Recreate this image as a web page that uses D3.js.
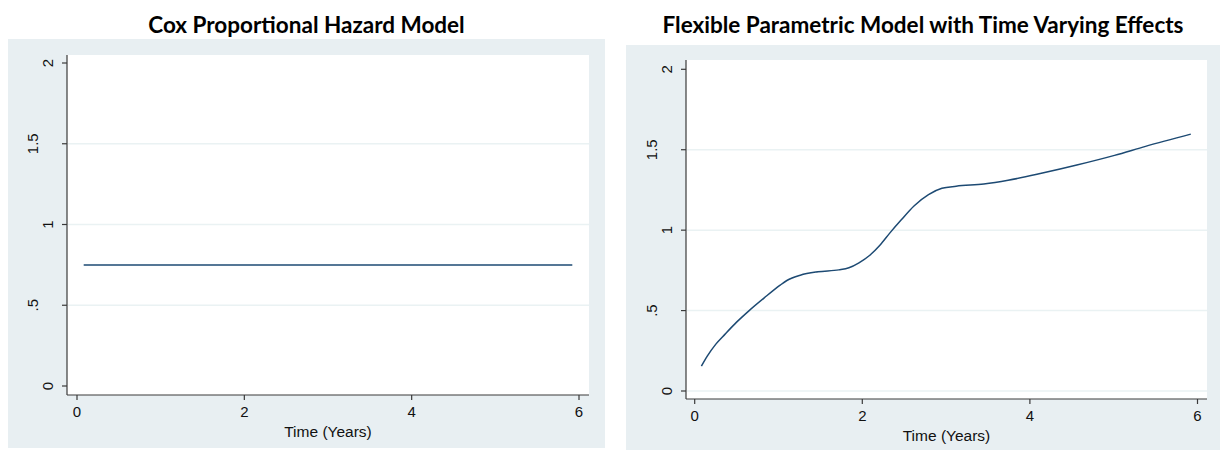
<!DOCTYPE html>
<html>
<head>
<meta charset="utf-8">
<script src="https://cdn.jsdelivr.net/npm/d3@7"></script>
<style>
  html, body { margin: 0; padding: 0; background: #ffffff; }
  svg { display: block; }
</style>
</head>
<body>
<svg id="chart" width="1224" height="450"></svg>
<script>
// Hazard ratio over follow-up time, two model specifications
const titles = ["Cox Proportional Hazard Model", "Flexible Parametric Model with Time Varying Effects"];
const xTitle = "Time (Years)";
const xTicks = [0, 2, 4, 6];
const yTicks = [0, 0.5, 1, 1.5, 2];
const yTickLabels = ["0", ".5", "1", "1.5", "2"];

// Cox model: constant hazard ratio
const coxTime = [0.08, 5.92];
const coxHR = [0.75, 0.75];

// Flexible parametric model: time-varying hazard ratio
const fpmTime = [0.08, 0.15, 0.25, 0.36, 0.50, 0.65, 0.83, 1.02, 1.10, 1.26, 1.47, 1.72, 1.84,
                 1.96, 2.09, 2.21, 2.33, 2.46, 2.62, 2.79, 2.95, 3.12, 3.45, 3.74, 4.15, 4.56,
                 5.01, 5.38, 5.92];
const fpmHR = [0.155, 0.217, 0.29, 0.352, 0.428, 0.50, 0.579, 0.658, 0.687, 0.72, 0.741, 0.753, 0.766,
               0.797, 0.844, 0.906, 0.983, 1.061, 1.152, 1.221, 1.26, 1.273, 1.287, 1.31, 1.355, 1.405,
               1.465, 1.521, 1.597];

const gridLeft = [0.5, 1, 1.5];
const gridRight = [0, 0.5, 1, 1.5];

const svg = d3.select("#chart");

const panels = [
  {
    title: titles[0], time: coxTime, hr: coxHR, grid: gridLeft,
    bg: {x0: 8, x1: 605, y0: 39, y1: 448},
    plot: {x0: 67, x1: 589, y0: 55, y1: 395},
    xr: [77, 579], yr: [386, 63], titleY: 33, xlabY: 412, xtitleY: 431
  },
  {
    title: titles[1], time: fpmTime, hr: fpmHR, grid: gridRight,
    bg: {x0: 626, x1: 1220, y0: 45, y1: 450},
    plot: {x0: 686, x1: 1207, y0: 60, y1: 399},
    xr: [694.7, 1197.5], yr: [391, 69.3], titleY: 33, xlabY: 416, xtitleY: 435
  }
];

const axisColor = "#3a3a3a";
const lineColor = "#1d4a73";

panels.forEach(p => {
  const g = svg.append("g");
  const x = d3.scaleLinear().domain([0, 6]).range(p.xr);
  const y = d3.scaleLinear().domain([0, 2]).range(p.yr);

  // outer graph region
  g.append("rect")
    .attr("x", p.bg.x0).attr("y", p.bg.y0)
    .attr("width", p.bg.x1 - p.bg.x0).attr("height", p.bg.y1 - p.bg.y0)
    .attr("fill", "#e8eff2");

  // plot region
  g.append("rect")
    .attr("x", p.plot.x0).attr("y", p.plot.y0)
    .attr("width", p.plot.x1 - p.plot.x0).attr("height", p.plot.y1 - p.plot.y0)
    .attr("fill", "#ffffff");

  // title
  g.append("text")
    .attr("x", (p.bg.x0 + p.bg.x1) / 2).attr("y", p.titleY)
    .attr("text-anchor", "middle")
    .attr("font-family", "Lato, 'Open Sans', sans-serif")
    .attr("font-weight", 700)
    .attr("font-size", 22.5)
    .attr("fill", "#000")
    .text(p.title);

  // horizontal gridlines
  g.selectAll(".grid").data(p.grid).enter().append("line")
    .attr("x1", p.plot.x0 + 1).attr("x2", p.plot.x1)
    .attr("y1", d => y(d)).attr("y2", d => y(d))
    .attr("stroke", "#eaf2f3").attr("stroke-width", 1.5);

  // y axis
  g.append("line")
    .attr("x1", p.plot.x0).attr("x2", p.plot.x0)
    .attr("y1", p.plot.y0).attr("y2", p.plot.y1)
    .attr("stroke", axisColor).attr("stroke-width", 1.2);
  g.selectAll(".ytick").data(yTicks).enter().append("line")
    .attr("x1", p.plot.x0 - 5).attr("x2", p.plot.x0)
    .attr("y1", d => y(d)).attr("y2", d => y(d))
    .attr("stroke", axisColor).attr("stroke-width", 1.2);
  g.selectAll(".ylab").data(yTicks).enter().append("text")
    .attr("transform", (d, i) => {
      const off = yTickLabels[i].includes(".") ? 34 : 19;
      return `translate(${p.plot.x0 - off},${y(d)}) rotate(-90)`;
    })
    .attr("text-anchor", "middle")
    .attr("dy", "0.36em")
    .attr("font-family", "'Liberation Sans', Arial, sans-serif")
    .attr("font-size", 15)
    .attr("fill", "#111")
    .text((d, i) => yTickLabels[i]);

  // x axis
  g.append("line")
    .attr("x1", p.plot.x0).attr("x2", p.plot.x1)
    .attr("y1", p.plot.y1).attr("y2", p.plot.y1)
    .attr("stroke", axisColor).attr("stroke-width", 1.2);
  g.selectAll(".xtick").data(xTicks).enter().append("line")
    .attr("x1", d => x(d)).attr("x2", d => x(d))
    .attr("y1", p.plot.y1).attr("y2", p.plot.y1 + 5)
    .attr("stroke", axisColor).attr("stroke-width", 1.2);
  g.selectAll(".xlab").data(xTicks).enter().append("text")
    .attr("x", d => x(d)).attr("y", p.xlabY)
    .attr("text-anchor", "middle")
    .attr("dy", "0.36em")
    .attr("font-family", "'Liberation Sans', Arial, sans-serif")
    .attr("font-size", 15)
    .attr("fill", "#111")
    .text(d => d);

  g.append("text")
    .attr("x", (p.plot.x0 + p.plot.x1) / 2).attr("y", p.xtitleY)
    .attr("text-anchor", "middle")
    .attr("dy", "0.36em")
    .attr("font-family", "'Liberation Sans', Arial, sans-serif")
    .attr("font-size", 15.5)
    .attr("fill", "#111")
    .text(xTitle);

  // hazard ratio curve
  const pts = p.time.map((t, i) => [t, p.hr[i]]);
  const line = d3.line()
    .x(d => x(d[0])).y(d => y(d[1]))
    .curve(d3.curveMonotoneX);
  g.append("path")
    .datum(pts)
    .attr("d", line)
    .attr("fill", "none")
    .attr("stroke", lineColor)
    .attr("stroke-width", 1.5);
});
</script>
</body>
</html>
